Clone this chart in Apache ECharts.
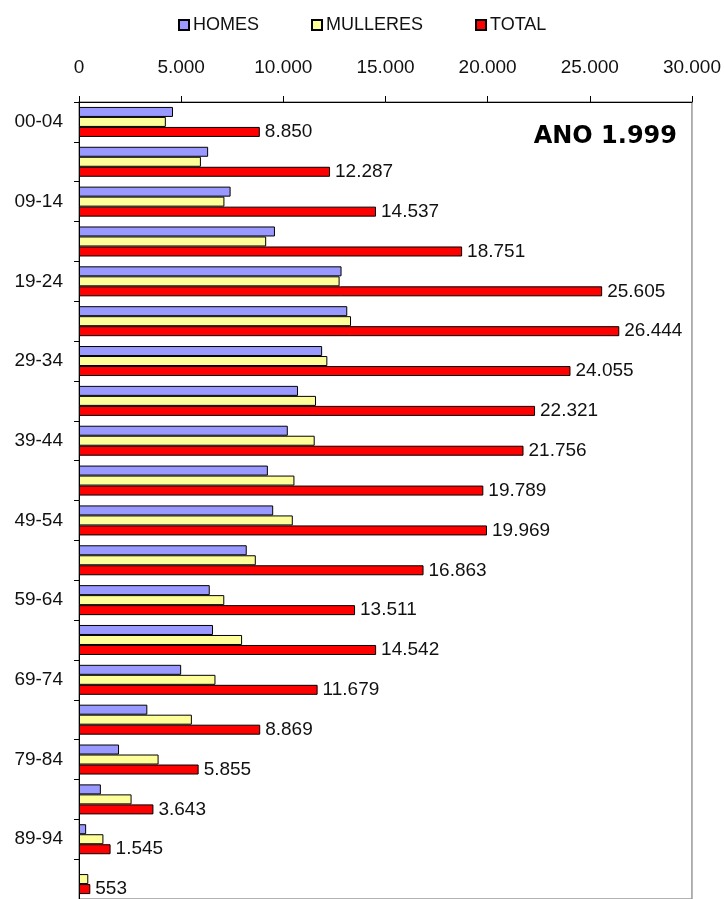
<!DOCTYPE html>
<html><head><meta charset="utf-8">
<script src="https://cdn.jsdelivr.net/npm/echarts@6/dist/echarts.min.js"></script>
<style>html,body{margin:0;padding:0;background:#fff}#c{width:724px;height:899px}</style>
</head><body><div id="c"></div>
<script>
const categories = ["00-04","04-09","09-14","14-19","19-24","24-29","29-34","34-39","39-44","44-49","49-54","54-59","59-64","64-69","69-74","74-79","79-84","84-89","89-94","94-99"];
const homes    = [4600, 6320, 7420, 9590, 12850, 13130, 11900, 10720, 10220, 9245, 9505, 8210, 6400, 6560, 5000, 3345, 1960, 1070, 350, null];
const mulleres = [4250, 5967, 7117, 9161, 12755, 13314, 12155, 11601, 11536, 10544, 10464, 8653, 7111, 7982, 6679, 5524, 3895, 2573, 1195, 455];
const total    = [8850, 12287, 14537, 18751, 25605, 26444, 24055, 22321, 21756, 19789, 19969, 16863, 13511, 14542, 11679, 8869, 5855, 3643, 1545, 553];
const xTicks = { min: 0, max: 30000, interval: 5000 };

function fmt(v){ return String(v).replace(/\B(?=(\d{3})+(?!\d))/g, '.'); }
const FONT = 'Liberation Sans, Arial, sans-serif';

const chart = echarts.init(document.getElementById('c'), null, {renderer:'canvas'});
chart.setOption({
  animation: false,
  backgroundColor: '#fff',
  title: {
    text: 'ANO 1.999', right: 47, top: 125, padding: 0,
    textStyle: { fontFamily: 'DejaVu Sans, sans-serif', fontWeight: 'bold', fontSize: 24, color: '#000' }
  },
  legend: {
    top: 11, left: 173, itemGap: 52, itemWidth: 10, itemHeight: 10, icon: 'rect',
    textStyle: { fontFamily: FONT, fontSize: 18, color: '#111', padding: [0,0,0,-1] },
    data: ['HOMES','MULLERES','TOTAL']
  },
  grid: { left: 79, right: 30, top: 102, bottom: -3, show: true, borderColor: '#999', borderWidth: 1.5, backgroundColor: 'transparent' },
  xAxis: {
    type: 'value', position: 'top', min: xTicks.min, max: xTicks.max, interval: xTicks.interval,
    axisLine: { show: true, lineStyle: { color: '#000', width: 1 } },
    axisTick: { show: true, length: 6, lineStyle: { color: '#000' } },
    splitLine: { show: false },
    axisLabel: { formatter: fmt, fontFamily: FONT, fontSize: 19, color: '#111', margin: 25 }
  },
  yAxis: {
    type: 'category', inverse: true, data: categories,
    axisLine: { show: true, lineStyle: { color: '#000', width: 1 } },
    axisTick: { show: true, length: 5, interval: 0, lineStyle: { color: '#000' } },
    axisLabel: { interval: 1, fontFamily: FONT, fontSize: 19, color: '#111', margin: 16 }
  },
  series: [
    { name: 'HOMES', type: 'bar', data: homes, barWidth: 10, barGap: '0%',
      itemStyle: { color: '#9999FF', borderColor: '#000', borderWidth: 1 } },
    { name: 'MULLERES', type: 'bar', data: mulleres, barWidth: 10, barGap: '0%',
      itemStyle: { color: '#FFFF99', borderColor: '#000', borderWidth: 1 } },
    { name: 'TOTAL', type: 'bar', data: total, barWidth: 10, barGap: '0%',
      itemStyle: { color: '#FF0000', borderColor: '#000', borderWidth: 1 },
      label: { show: true, position: 'right', distance: 5, formatter: p => fmt(p.value),
        fontFamily: FONT, fontSize: 19, color: '#111' } }
  ]
});
</script></body></html>
